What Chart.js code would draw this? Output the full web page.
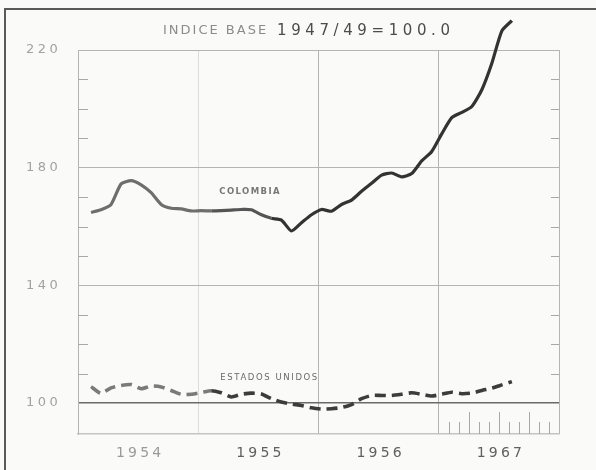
<!DOCTYPE html>
<html>
<head>
<meta charset="utf-8">
<script src="https://cdn.jsdelivr.net/npm/chart.js@4.4.0/dist/chart.umd.min.js"></script>
<style>
  html, body { margin: 0; padding: 0; background: #fafaf8; }
  #wrap { position: relative; width: 596px; height: 470px; }
</style>
</head>
<body>
<div id="wrap"><canvas id="chart" width="596" height="470"></canvas></div>
<script>
// Indice base 1947/49 = 100.0, monthly values Feb 1954 .. Aug 1957
const yearLabels = ['1954', '1955', '1956', '1967'];
const yTicks = [100, 140, 180, 220];
const yMinorTicks = [110, 120, 130, 150, 160, 170, 190, 200, 210];

const colombia = [164.8, 165.7, 167.5, 174.5, 175.6, 174.2, 171.5, 167.5, 166.2, 166.0, 165.3, 165.4,
  165.3, 165.4, 165.6, 165.8, 165.7, 164.0, 162.8, 162.2, 158.5, 161.3, 164.0, 165.8,
  165.2, 167.5, 169.0, 172.0, 174.7, 177.5, 178.2, 176.9, 178.0, 182.3, 185.5, 191.5,
  197.0, 198.8, 200.8, 206.5, 215.5, 226.5, 230.0];

const estadosUnidos = [105.6, 103.3, 105.2, 106.0, 106.3, 104.9, 105.8, 105.5, 104.3, 103.0, 103.0, 103.6,
  104.2, 103.5, 102.1, 103.0, 103.4, 103.1, 101.5, 100.4, 99.7, 99.2, 98.4, 98.0,
  98.1, 98.5, 99.5, 101.5, 102.6, 102.6, 102.6, 103.0, 103.5, 103.0, 102.4, 103.0,
  103.7, 103.2, 103.4, 104.3, 105.1, 106.2, 107.3];

const FONT = '"DejaVu Sans", sans-serif';

// month index on the x axis (0 = start of 1954)
const toPoints = arr => arr.map((v, i) => ({ x: i + 1.3, y: v }));

function spacedText(ctx, text, x, y, spacing) {
  ctx.letterSpacing = spacing + 'px';
  ctx.fillText(text, x, y);
  ctx.letterSpacing = '0px';
}

const decor = {
  id: 'decor',
  beforeDraw(chart) {
    const ctx = chart.ctx;
    ctx.save();
    ctx.fillStyle = '#fafaf8';
    ctx.fillRect(0, 0, chart.width, chart.height);
    // scanned frame
    ctx.strokeStyle = '#5a5a5a';
    ctx.lineWidth = 2;
    ctx.beginPath();
    ctx.moveTo(5, chart.height);
    ctx.lineTo(5, 9);
    ctx.lineTo(chart.width, 9);
    ctx.stroke();
    ctx.restore();
  },
  afterDraw(chart) {
    const ctx = chart.ctx;
    const sx = chart.scales.x, sy = chart.scales.y;
    const a = chart.chartArea;
    ctx.save();

    // minor ticks on both sides
    ctx.strokeStyle = '#a8a8a8';
    ctx.lineWidth = 1;
    yMinorTicks.forEach(v => {
      const y = Math.round(sy.getPixelForValue(v)) + 0.5;
      ctx.beginPath();
      ctx.moveTo(a.left, y); ctx.lineTo(a.left + 10, y);
      ctx.moveTo(a.right - 8, y); ctx.lineTo(a.right, y);
      ctx.stroke();
    });

    // month ticks along the last year
    for (let m = 37; m < 48; m++) {
      const x = Math.round(sx.getPixelForValue(m)) + 0.5;
      const h = (m - 36) % 3 === 0 ? 22 : 12;
      ctx.beginPath();
      ctx.moveTo(x, a.bottom); ctx.lineTo(x, a.bottom - h);
      ctx.stroke();
    }

    ctx.textBaseline = 'middle';

    // title
    ctx.textAlign = 'left';
    ctx.fillStyle = '#8c8c8c';
    ctx.font = '13px ' + FONT;
    spacedText(ctx, 'INDICE BASE', 163, 31, 2);
    ctx.fillStyle = '#4c4c4c';
    ctx.font = '15px ' + FONT;
    spacedText(ctx, '1947/49=100.0', 277, 31, 4.6);

    // y labels
    ctx.fillStyle = '#a2a2a2';
    ctx.font = '13px ' + FONT;
    yTicks.forEach(v => {
      spacedText(ctx, String(v), 26, sy.getPixelForValue(v), 3.5);
    });

    // year labels, centred in each year
    ctx.textAlign = 'center';
    ctx.font = '14px ' + FONT;
    yearLabels.forEach((lab, i) => {
      ctx.fillStyle = i === 0 ? '#9a9a9a' : '#606060';
      spacedText(ctx, lab, sx.getPixelForValue(i * 12 + 6) + 2, 453, 3.2);
    });

    // series labels
    ctx.textAlign = 'left';
    ctx.font = 'bold 8.5px ' + FONT;
    ctx.fillStyle = '#777';
    spacedText(ctx, 'COLOMBIA', sx.getPixelForValue(14.1), sy.getPixelForValue(171.7), 1.4);
    ctx.font = '8.5px ' + FONT;
    ctx.fillStyle = '#6a6a6a';
    spacedText(ctx, 'ESTADOS UNIDOS', sx.getPixelForValue(14.2), sy.getPixelForValue(108.7), 1.6);

    ctx.restore();
  }
};

new Chart(document.getElementById('chart'), {
  type: 'line',
  data: {
    datasets: [
      {
        label: 'Colombia',
        data: toPoints(colombia),
        borderColor: '#333',
        borderWidth: 3.2,
        pointRadius: 0,
        tension: 0.2,
        clip: false,
        segment: {
          borderColor: c => c.p0DataIndex < 12 ? '#6e6e6e' : (c.p0DataIndex < 18 ? '#555' : '#333')
        }
      },
      {
        label: 'Estados Unidos',
        data: toPoints(estadosUnidos),
        borderColor: '#3c3c3c',
        borderWidth: 3.6,
        borderDash: [11, 6],
        pointRadius: 0,
        tension: 0.2,
        clip: false,
        segment: {
          borderColor: c => c.p0DataIndex < 12 ? '#7a7a7a' : '#3c3c3c'
        }
      }
    ]
  },
  options: {
    responsive: false,
    animation: false,
    devicePixelRatio: 1,
    layout: { padding: { left: 78, right: 37, top: 50, bottom: 36 } },
    plugins: { legend: { display: false }, tooltip: { enabled: false } },
    scales: {
      x: {
        type: 'linear',
        min: 0,
        max: 48,
        afterBuildTicks: s => { s.ticks = [0, 12, 24, 36, 48].map(v => ({ value: v })); },
        afterFit: s => { s.height = 0; },
        ticks: { display: false },
        grid: {
          drawTicks: false,
          color: c => c.tick && c.tick.value === 12 ? '#dcdcdc' : '#b4b4b4',
          lineWidth: 1
        },
        border: { display: true, color: '#c4c4c4', width: 1.5 }
      },
      y: {
        min: 89.5,
        max: 220,
        afterBuildTicks: s => { s.ticks = yTicks.map(v => ({ value: v })); },
        afterFit: s => { s.width = 0; },
        ticks: { display: false },
        grid: {
          drawTicks: false,
          color: c => c.tick && c.tick.value === 100 ? '#6a6a6a' : '#b4b4b4',
          lineWidth: c => c.tick && c.tick.value === 100 ? 1.6 : 1
        },
        border: { display: true, color: '#b4b4b4' }
      }
    }
  },
  plugins: [decor]
});
</script>
</body>
</html>
